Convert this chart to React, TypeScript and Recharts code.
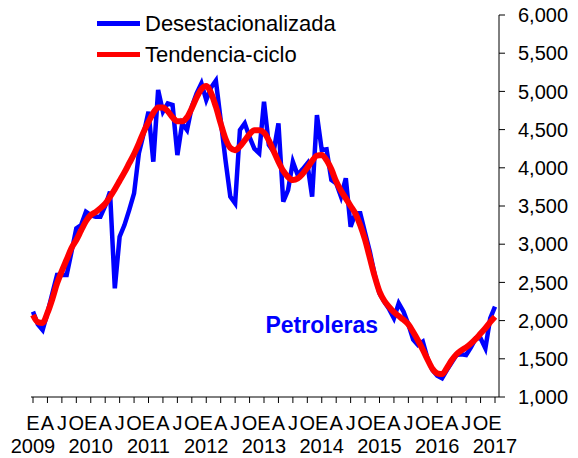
import {
    ComposedChart,
    Line,
    XAxis,
    YAxis,
    Legend,
    ReferenceDot
} from 'recharts';

// Monthly series, Jan 2009 .. Jan 2017 (97 points)
const desestacionalizada = [
    2117, 1950, 1877, 2100, 2350, 2597, 2600, 2597, 2900, 3208, 3250, 3425,
    3380, 3360, 3360, 3500, 3687, 2423, 3098, 3250, 3450, 3665, 4190, 4450,
    4734, 4080, 5018, 4734, 4843, 4822, 4167, 4582, 4495, 4800, 4975, 5106,
    4887, 5050, 5140, 4626, 4100, 3622, 3535, 4495, 4582, 4400, 4250, 4190,
    4865, 4300, 4211, 4582, 3557, 3709, 4080, 3906, 3980, 4058, 3622, 4691,
    4233, 4242, 3840, 3797, 3622, 3862, 3229, 3404, 3404, 3150, 2900, 2600,
    2357, 2247, 2150, 2030, 2226, 2117, 1950, 1750, 1681, 1724, 1500, 1353,
    1280, 1245, 1353, 1450, 1550, 1560, 1550, 1650, 1768, 1768, 1637, 2030,
    2182
];

const tendenciaCiclo = [
    2073, 1980, 1970, 2100, 2280, 2488, 2650, 2800, 2950, 3055, 3180, 3300,
    3382, 3420, 3470, 3530, 3620, 3720, 3830, 3940, 4060, 4180, 4320, 4470,
    4600, 4720, 4790, 4790, 4740, 4660, 4610, 4610, 4660, 4780, 4920, 5030,
    5071, 4980, 4800, 4580, 4380, 4260, 4230, 4280, 4360, 4440, 4490, 4490,
    4460, 4360, 4220, 4080, 3960, 3880, 3840, 3860, 3920, 4000, 4090, 4160,
    4167, 4100, 3980, 3820, 3700, 3600, 3500, 3400, 3250, 3060, 2820, 2580,
    2380, 2260, 2180, 2110, 2060, 2010, 1950, 1850, 1740, 1620, 1490, 1370,
    1310, 1300, 1380, 1480, 1560, 1610, 1650, 1700, 1760, 1830, 1900, 1980,
    2051
];

const quarterLetters = ['E', 'A', 'J', 'O'];
const firstYear = 2009;
const xTicks = Array.from({length: 33}, (_, i) => i * 3);
const yTicks = [1000, 1500, 2000, 2500, 3000, 3500, 4000, 4500, 5000, 5500, 6000];

const legendItems = [
    {name: 'Desestacionalizada', color: '#0000FF'},
    {name: 'Tendencia-ciclo', color: '#FF0000'}
];

const FONT = "Arial, 'Liberation Sans', sans-serif";

const data = desestacionalizada.map((v, i) => ({m: i, des: v, ten: tendenciaCiclo[i]}));

const QuarterTick = ({x, y, payload}: any) => {
    const m = payload.value;
    const letter = quarterLetters[(m / 3) % 4];
    const year = m % 12 === 0 ? firstYear + m / 12 : null;
    return (
        <g>
            <text x={x} y={y + 25} textAnchor="middle" fontSize={20} fontFamily={FONT} fill="#000">{letter}</text>
            {year !== null && (
                <text x={x} y={y + 48} textAnchor="middle" fontSize={20} fontFamily={FONT} fill="#000">{year}</text>
            )}
        </g>
    );
};

const LegendBox = () => (
    <div style={{fontFamily: FONT, fontSize: 22, color: '#000'}}>
        {legendItems.map(item => (
            <div key={item.name} style={{display: 'flex', alignItems: 'center', height: 31}}>
                <span style={{display: 'inline-block', width: 43, height: 5, background: item.color, marginRight: 5}}/>
                <span style={{lineHeight: '31px'}}>{item.name}</span>
            </div>
        ))}
    </div>
);

export default function App() {
    return (
        <div style={{position: 'absolute', left: 0, top: 0, width: 578, height: 458, background: '#fff'}}>
            <ComposedChart width={578} height={458} data={data} margin={{top: 15, right: 0, bottom: 0, left: 31}}>
                <XAxis
                    dataKey="m"
                    type="number"
                    domain={[0, 96]}
                    ticks={xTicks}
                    interval={0}
                    padding={{left: 2, right: 4}}
                    height={61}
                    tickSize={6}
                    stroke="#000"
                    tick={<QuarterTick/>}
                />
                <YAxis
                    orientation="right"
                    domain={[1000, 6000]}
                    ticks={yTicks}
                    interval={0}
                    width={79}
                    tickSize={6}
                    tickMargin={13}
                    stroke="#000"
                    tick={{fill: '#000', fontSize: 20, fontFamily: FONT}}
                    tickFormatter={(v) => v.toLocaleString('en-US')}
                />
                <Legend
                    layout="vertical"
                    align="center"
                    verticalAlign="middle"
                    content={<LegendBox/>}
                    wrapperStyle={{top: 8, left: 97, width: 300}}
                />
                <Line
                    type="linear"
                    dataKey="des"
                    stroke="#0000FF"
                    strokeWidth={4.5}
                    dot={false}
                    isAnimationActive={false}
                />
                <Line
                    type="monotone"
                    dataKey="ten"
                    stroke="#FF0000"
                    strokeWidth={6}
                    dot={false}
                    isAnimationActive={false}
                />
                <ReferenceDot
                    x={60}
                    y={1950}
                    r={0}
                    ifOverflow="visible"
                    label={{value: 'Petroleras', position: 'center', fill: '#0000FF', fontSize: 23, fontWeight: 'bold', fontFamily: FONT}}
                />
            </ComposedChart>
        </div>
    );
}
